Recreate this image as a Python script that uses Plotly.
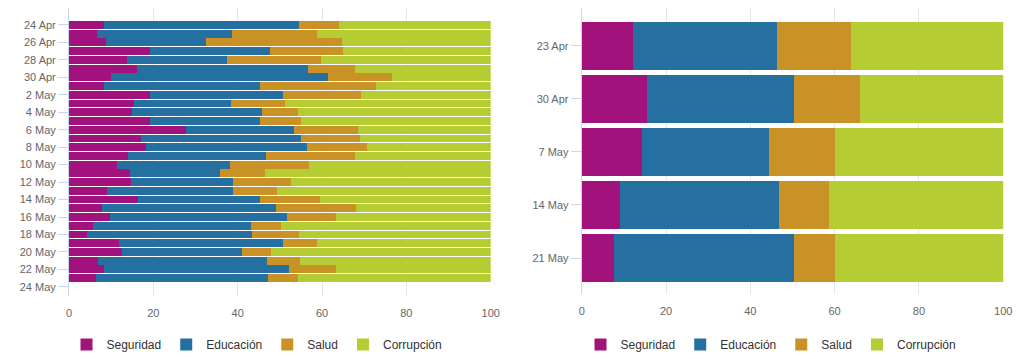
import plotly.graph_objects as go

# ---- Daily data (left chart) ----
days = ["2020-04-24", "2020-04-25", "2020-04-26", "2020-04-27", "2020-04-28", "2020-04-29",
        "2020-04-30", "2020-05-01", "2020-05-02", "2020-05-03", "2020-05-04", "2020-05-05",
        "2020-05-06", "2020-05-07", "2020-05-08", "2020-05-09", "2020-05-10", "2020-05-11",
        "2020-05-12", "2020-05-13", "2020-05-14", "2020-05-15", "2020-05-16", "2020-05-17",
        "2020-05-18", "2020-05-19", "2020-05-20", "2020-05-21", "2020-05-22", "2020-05-23"]
seguridad_d = [8.4, 6.6, 8.8, 19.2, 13.7, 16.1, 9.9, 8.3, 19.2, 15.4, 15.0, 19.2, 27.8, 17.1, 18.3,
               13.9, 11.4, 14.5, 14.7, 9.0, 16.3, 7.8, 9.7, 5.8, 4.2, 11.8, 12.6, 6.8, 8.3, 6.4]
educacion_d = [46.1, 32.1, 23.7, 28.4, 23.7, 40.6, 51.5, 37.1, 31.5, 22.9, 30.7, 26.0, 25.5, 38.0, 38.1,
               32.8, 26.7, 21.4, 24.2, 29.9, 29.0, 41.3, 42.1, 37.3, 39.2, 38.9, 28.4, 40.1, 43.9, 40.8]
salud_d = [9.5, 20.0, 32.2, 17.3, 22.3, 11.1, 15.2, 27.3, 18.5, 12.9, 8.6, 9.9, 15.3, 14.0, 14.2,
           21.1, 18.8, 10.5, 13.8, 10.4, 14.3, 18.9, 11.5, 7.1, 11.1, 8.0, 7.0, 7.8, 11.2, 7.2]
corrupcion_d = [36.0, 41.3, 35.3, 35.1, 40.3, 32.2, 23.4, 27.3, 30.8, 48.8, 45.7, 44.9, 31.4, 30.9, 29.4,
                32.2, 43.1, 53.6, 47.3, 50.7, 40.4, 32.0, 36.7, 49.8, 45.5, 41.3, 52.0, 45.3, 36.6, 45.6]

# ---- Weekly data (right chart) ----
weeks = ["23 Apr", "30 Apr", "7 May", "14 May", "21 May"]
seguridad_w = [12.1, 15.4, 14.3, 9.0, 7.7]
educacion_w = [34.1, 34.9, 30.0, 37.7, 42.6]
salud_w = [17.6, 15.7, 15.7, 12.0, 9.7]
corrupcion_w = [36.2, 34.0, 40.0, 41.3, 40.0]

names = ["Seguridad", "Educación", "Salud", "Corrupción"]
colors = ["#a1127d", "#2570a1", "#c89227", "#b6cc33"]

FONT = "Liberation Sans, Arial, Helvetica, sans-serif"
DAY_MS = 86400000

# page body has an 8px margin; figure coordinates are shifted accordingly
W, H, OFF = 1008, 351, 8


def px(x):
    return (x - OFF) / W


def py(y):
    return 1 - (y - OFF) / H


fig = go.Figure()

daily = [seguridad_d, educacion_d, salud_d, corrupcion_d]
weekly = [seguridad_w, educacion_w, salud_w, corrupcion_w]

for name, color, vals in zip(names, colors, daily):
    fig.add_trace(go.Bar(
        x=vals, y=days, orientation="h", name=name,
        marker=dict(color=color, line=dict(width=0)),
        width=[0.9 * DAY_MS] * len(days),
        xaxis="x", yaxis="y", legend="legend",
    ))

for name, color, vals in zip(names, colors, weekly):
    fig.add_trace(go.Bar(
        x=vals, y=weeks, orientation="h", name=name,
        marker=dict(color=color, line=dict(width=0)),
        width=0.9,
        xaxis="x2", yaxis="y2", legend="legend2",
    ))

axis_font = dict(family=FONT, size=11, color="#666666")

fig.update_layout(
    width=W, height=H,
    margin=dict(l=0, r=0, t=0, b=0),
    paper_bgcolor="white", plot_bgcolor="white",
    barmode="stack",
    bargap=0,
    font=dict(family=FONT, color="#333333"),
    xaxis=dict(
        domain=[px(69), px(490.7)], anchor="y",
        range=[0, 100], dtick=20, tick0=0,
        showgrid=True, gridcolor="#e6e6e6", gridwidth=1,
        zeroline=False, showline=False, ticks="",
        tickfont=axis_font, automargin=False,
        ticklabelstandoff=9,
    ),
    yaxis=dict(
        domain=[py(296.7), py(8)], anchor="x",
        type="date",
        range=["2020-05-25 00:45", "2020-04-22 01:30"],
        tick0="2020-04-24", dtick=2 * DAY_MS, tickformat="%-d %b",
        showgrid=False, zeroline=False,
        showline=True, linecolor="#ccd6eb", linewidth=1,
        ticks="outside", ticklen=10, tickcolor="#ccd6eb", tickwidth=1,
        tickfont=axis_font, automargin=False,
    ),
    xaxis2=dict(
        domain=[px(581.7), px(1003.2)], anchor="y2",
        range=[0, 100], dtick=20, tick0=0,
        showgrid=True, gridcolor="#e6e6e6", gridwidth=1,
        zeroline=False, showline=False, ticks="",
        tickfont=axis_font, automargin=False,
        ticklabelstandoff=9,
    ),
    yaxis2=dict(
        domain=[py(295), py(8)], anchor="x2",
        type="category",
        range=[4.68, -0.71],
        showgrid=False, zeroline=False,
        showline=True, linecolor="#ccd6eb", linewidth=1,
        ticks="outside", ticklen=10, tickcolor="#ccd6eb", tickwidth=1,
        tickfont=axis_font, automargin=False,
    ),
    legend=dict(
        orientation="h", x=px(257), xanchor="center",
        y=py(345), yanchor="middle",
        font=dict(family=FONT, size=12, color="#333333"),
        itemwidth=30, traceorder="normal", bgcolor="rgba(0,0,0,0)",
    ),
    legend2=dict(
        orientation="h", x=px(771), xanchor="center",
        y=py(345), yanchor="middle",
        font=dict(family=FONT, size=12, color="#333333"),
        itemwidth=30, traceorder="normal", bgcolor="rgba(0,0,0,0)",
    ),
)

fig.write_html("out.html")
